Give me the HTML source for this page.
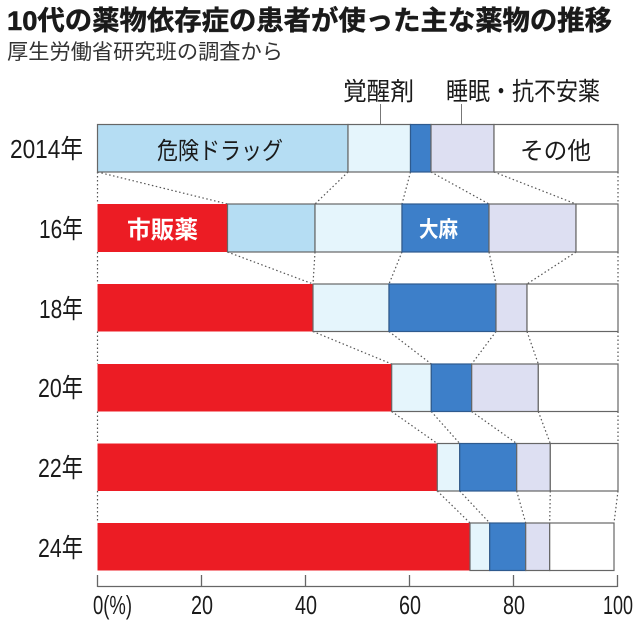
<!DOCTYPE html>
<html><head><meta charset="utf-8"><style>
html,body{margin:0;padding:0;background:#fff;}
svg{display:block;}
text{font-family:"Liberation Sans","Noto Sans CJK JP",sans-serif;}
</style></head><body>
<svg width="636" height="625" viewBox="0 0 636 625" xmlns="http://www.w3.org/2000/svg">
<rect width="636" height="625" fill="#fff"/>
<!-- Title -->
<text x="7" y="30" font-size="27" font-weight="bold" fill="#1a1a1a" stroke="#1a1a1a" stroke-width="0.5" textLength="605" lengthAdjust="spacingAndGlyphs">10代の薬物依存症の患者が使った主な薬物の推移</text>
<text x="7" y="59" font-size="21" fill="#333" textLength="276" lengthAdjust="spacingAndGlyphs">厚生労働省研究班の調査から</text>

<!-- top labels -->
<text x="343" y="100" font-size="25" fill="#1a1a1a" textLength="71" lengthAdjust="spacingAndGlyphs">覚醒剤</text>
<text x="446" y="100" font-size="25" fill="#1a1a1a" textLength="154" lengthAdjust="spacingAndGlyphs">睡眠・抗不安薬</text>

<!-- dotted connectors -->
<g stroke="#555" stroke-width="1.2" stroke-dasharray="1.5 2.5" fill="none">
<line x1="97.5" y1="172" x2="97.5" y2="204"/>
<line x1="97.5" y1="172" x2="227.5" y2="204"/>
<line x1="348" y1="172" x2="315" y2="204"/>
<line x1="410.5" y1="172" x2="402" y2="204"/>
<line x1="431" y1="172" x2="489" y2="204"/>
<line x1="494" y1="172" x2="576" y2="204"/>
<line x1="618" y1="172" x2="618" y2="204"/>

<line x1="97.5" y1="252" x2="97.5" y2="284"/>
<line x1="227.5" y1="252" x2="313" y2="284"/>
<line x1="315" y1="252" x2="313" y2="284"/>
<line x1="402" y1="252" x2="389" y2="284"/>
<line x1="489" y1="252" x2="496" y2="284"/>
<line x1="576" y1="252" x2="527" y2="284"/>
<line x1="618" y1="252" x2="618" y2="284"/>

<line x1="97.5" y1="331.5" x2="97.5" y2="364"/>
<line x1="313" y1="331.5" x2="391.7" y2="364"/>
<line x1="389" y1="331.5" x2="431.3" y2="364"/>
<line x1="496" y1="331.5" x2="471.7" y2="364"/>
<line x1="527" y1="331.5" x2="538.3" y2="364"/>
<line x1="618" y1="331.5" x2="618" y2="364"/>

<line x1="97.5" y1="411.5" x2="97.5" y2="443.5"/>
<line x1="391.7" y1="411.5" x2="437.3" y2="443.5"/>
<line x1="431.3" y1="411.5" x2="459.7" y2="443.5"/>
<line x1="471.7" y1="411.5" x2="516.7" y2="443.5"/>
<line x1="538.3" y1="411.5" x2="550.3" y2="443.5"/>
<line x1="618" y1="411.5" x2="618" y2="443.5"/>

<line x1="97.5" y1="491" x2="97.5" y2="523"/>
<line x1="437.3" y1="491" x2="470" y2="523"/>
<line x1="459.7" y1="491" x2="489.7" y2="523"/>
<line x1="516.7" y1="491" x2="525.7" y2="523"/>
<line x1="550.3" y1="491" x2="549.7" y2="523"/>
<line x1="618" y1="491" x2="614" y2="523"/>
</g>

<!-- leader lines -->
<line x1="380.5" y1="104" x2="380.5" y2="132" stroke="#777" stroke-width="1"/>
<line x1="461.5" y1="104" x2="461.5" y2="133" stroke="#777" stroke-width="1"/>

<!-- 2014 -->
<g stroke="#666" stroke-width="1.2">
<rect x="97.5" y="124.5" width="250.5" height="47.5" fill="#b5ddf3"/>
<rect x="348" y="124.5" width="62.5" height="47.5" fill="#e5f5fc"/>
<rect x="410.5" y="124.5" width="20.5" height="47.5" fill="#3d7fc9" stroke="#2e5a8e"/>
<rect x="431" y="124.5" width="63" height="47.5" fill="#dddff2"/>
<rect x="494" y="124.5" width="124" height="47.5" fill="#fff"/>
</g>
<!-- 16 -->
<g stroke="#666" stroke-width="1.2">
<rect x="97.5" y="204" width="130" height="48" fill="#ec1c24" stroke="none"/>
<rect x="227.5" y="204" width="87.5" height="48" fill="#b5ddf3"/>
<rect x="315" y="204" width="87" height="48" fill="#e5f5fc"/>
<rect x="402" y="204" width="87" height="48" fill="#3d7fc9" stroke="#2e5a8e"/>
<rect x="489" y="204" width="87" height="48" fill="#dddff2"/>
<rect x="576" y="204" width="42" height="48" fill="#fff"/>
</g>
<!-- 18 -->
<g stroke="#666" stroke-width="1.2">
<rect x="97.5" y="284" width="215.5" height="47.5" fill="#ec1c24" stroke="none"/>
<rect x="313" y="284" width="76" height="47.5" fill="#e5f5fc"/>
<rect x="389" y="284" width="107" height="47.5" fill="#3d7fc9" stroke="#2e5a8e"/>
<rect x="496" y="284" width="31" height="47.5" fill="#dddff2"/>
<rect x="527" y="284" width="91" height="47.5" fill="#fff"/>
</g>
<!-- 20 -->
<g stroke="#666" stroke-width="1.2">
<rect x="97.5" y="364" width="294.2" height="47.5" fill="#ec1c24" stroke="none"/>
<rect x="391.7" y="364" width="39.6" height="47.5" fill="#e5f5fc"/>
<rect x="431.3" y="364" width="40.4" height="47.5" fill="#3d7fc9" stroke="#2e5a8e"/>
<rect x="471.7" y="364" width="66.6" height="47.5" fill="#dddff2"/>
<rect x="538.3" y="364" width="79.7" height="47.5" fill="#fff"/>
</g>
<!-- 22 -->
<g stroke="#666" stroke-width="1.2">
<rect x="97.5" y="443.5" width="339.8" height="47.5" fill="#ec1c24" stroke="none"/>
<rect x="437.3" y="443.5" width="22.4" height="47.5" fill="#e5f5fc"/>
<rect x="459.7" y="443.5" width="57" height="47.5" fill="#3d7fc9" stroke="#2e5a8e"/>
<rect x="516.7" y="443.5" width="33.6" height="47.5" fill="#dddff2"/>
<rect x="550.3" y="443.5" width="67.7" height="47.5" fill="#fff"/>
</g>
<!-- 24 -->
<g stroke="#666" stroke-width="1.2">
<rect x="97.5" y="523" width="372.5" height="47.5" fill="#ec1c24" stroke="none"/>
<rect x="470" y="523" width="19.7" height="47.5" fill="#e5f5fc"/>
<rect x="489.7" y="523" width="36" height="47.5" fill="#3d7fc9" stroke="#2e5a8e"/>
<rect x="525.7" y="523" width="24" height="47.5" fill="#dddff2"/>
<rect x="549.7" y="523" width="64.3" height="47.5" fill="#fff"/>
</g>

<!-- in-bar labels -->
<text x="157" y="159" font-size="24" fill="#1a1a1a" textLength="126" lengthAdjust="spacingAndGlyphs">危険ドラッグ</text>
<text x="520" y="159" font-size="24" fill="#1a1a1a" textLength="71" lengthAdjust="spacingAndGlyphs">その他</text>
<text x="127" y="238" font-size="24" font-weight="bold" fill="#fff" textLength="71" lengthAdjust="spacingAndGlyphs">市販薬</text>
<text x="419" y="237" font-size="22" font-weight="bold" fill="#fff" textLength="39" lengthAdjust="spacingAndGlyphs">大麻</text>

<!-- year labels -->
<g font-size="26" fill="#1a1a1a">
<text x="10" y="158" textLength="73" lengthAdjust="spacingAndGlyphs">2014年</text>
<text x="39" y="238" textLength="44" lengthAdjust="spacingAndGlyphs">16年</text>
<text x="39" y="318" textLength="44" lengthAdjust="spacingAndGlyphs">18年</text>
<text x="38" y="397" textLength="45" lengthAdjust="spacingAndGlyphs">20年</text>
<text x="38" y="477" textLength="45" lengthAdjust="spacingAndGlyphs">22年</text>
<text x="38" y="557" textLength="45" lengthAdjust="spacingAndGlyphs">24年</text>
</g>

<!-- axis -->
<g stroke="#666" stroke-width="1.3">
<line x1="97.5" y1="586.5" x2="617.5" y2="586.5"/>
<line x1="97.5" y1="575" x2="97.5" y2="587"/>
<line x1="201.5" y1="575" x2="201.5" y2="587"/>
<line x1="305.5" y1="575" x2="305.5" y2="587"/>
<line x1="409.5" y1="575" x2="409.5" y2="587"/>
<line x1="513.5" y1="575" x2="513.5" y2="587"/>
<line x1="617.5" y1="575" x2="617.5" y2="587"/>
</g>
<g font-size="26" fill="#1a1a1a">
<text x="93" y="614" textLength="39" lengthAdjust="spacingAndGlyphs">0(%)</text>
<text x="191" y="614" textLength="22" lengthAdjust="spacingAndGlyphs">20</text>
<text x="295" y="614" textLength="22" lengthAdjust="spacingAndGlyphs">40</text>
<text x="399" y="614" textLength="22" lengthAdjust="spacingAndGlyphs">60</text>
<text x="503" y="614" textLength="22" lengthAdjust="spacingAndGlyphs">80</text>
<text x="603" y="614" textLength="30" lengthAdjust="spacingAndGlyphs">100</text>
</g>
</svg>
</body></html>
